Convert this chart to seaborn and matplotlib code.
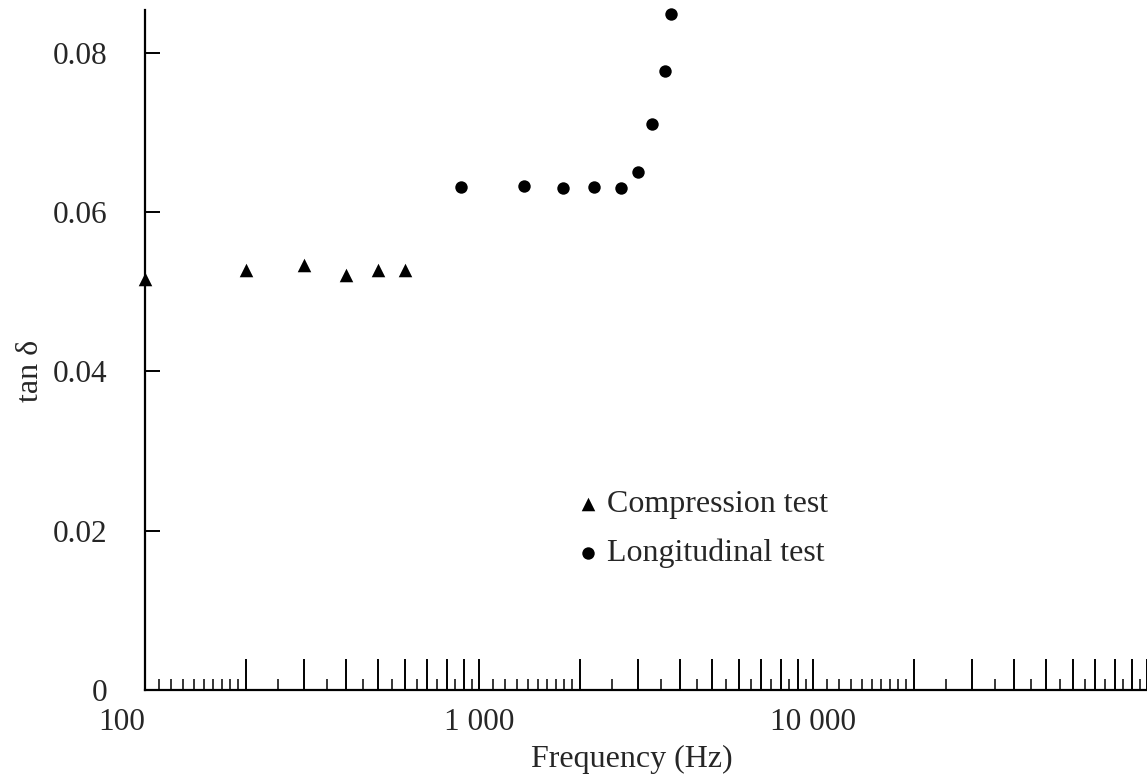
"""tan delta versus frequency, compression and longitudinal tests."""

import matplotlib

matplotlib.use("Agg")

import matplotlib.pyplot as plt
import pandas as pd
import seaborn as sns
from matplotlib.ticker import NullFormatter

compression_freq = [100, 200, 300, 400, 500, 600]
compression_tan = [0.0516, 0.0527, 0.0534, 0.0521, 0.0527, 0.0527]

longitudinal_freq = [885, 1360, 1790, 2210, 2660, 3000, 3300, 3600, 3750]
longitudinal_tan = [0.0632, 0.0633, 0.0630, 0.0632, 0.0630, 0.0650, 0.0711, 0.0778, 0.0849]

y_ticks = [0, 0.02, 0.04, 0.06, 0.08]
y_tick_labels = ["0", "0.02", "0.04", "0.06", "0.08"]
x_label_ticks = {100: "100", 1000: "1 000", 10000: "10 000"}

decades = [100, 1000, 10000]
tall_ticks = [k * d for d in decades for k in range(1, 10)] + [100000]
short_ticks = [d * (1 + k / 10) for d in decades for k in range(1, 10)] + [
    d * (k + 0.5) for d in decades for k in range(2, 10)
]

compression = pd.DataFrame({"freq": compression_freq, "tan": compression_tan})
longitudinal = pd.DataFrame({"freq": longitudinal_freq, "tan": longitudinal_tan})

sns.set_theme(style="white")
plt.rcParams["font.family"] = ["Liberation Serif", "DejaVu Serif"]

W, H = 1147, 774
fig = plt.figure(figsize=(W / 100, H / 100), dpi=100)
ax = fig.add_axes([145 / W, 1 - 690 / H, 1002 / W, 680 / H])

sns.scatterplot(data=compression, x="freq", y="tan", marker="^", s=95, color="black",
                edgecolor="black", linewidth=0, label="Compression test", ax=ax, clip_on=False)
sns.scatterplot(data=longitudinal, x="freq", y="tan", marker="o", s=80, color="black",
                edgecolor="black", linewidth=0, label="Longitudinal test", ax=ax, clip_on=False)

ax.set_xscale("log")
ax.set_xlim(100, 100000)
ax.set_ylim(0, 0.0854)

for side in ["top", "right"]:
    ax.spines[side].set_visible(False)
for side in ["left", "bottom"]:
    ax.spines[side].set_linewidth(1.6)
    ax.spines[side].set_color("black")

ax.set_xticks(tall_ticks, labels=[x_label_ticks.get(t, "") for t in tall_ticks])
ax.set_xticks(short_ticks, minor=True)
ax.xaxis.set_minor_formatter(NullFormatter())
ax.set_yticks(y_ticks, labels=y_tick_labels)
ax.tick_params(axis="x", which="major", direction="in", length=22, width=1.4,
               pad=13, labelsize=22.5, color="black", bottom=True)
ax.tick_params(axis="x", which="minor", direction="in", length=8, width=1.1,
               color="black", bottom=True)
ax.tick_params(axis="y", which="major", direction="in", length=11, width=1.4,
               pad=27, labelsize=22.5, color="black", left=True)
ax.tick_params(axis="y", which="minor", left=False)
ax.get_xticklabels()[0].set_horizontalalignment("right")

ax.set_xlabel("Frequency (Hz)", fontsize=23)
ax.set_ylabel("tan δ", fontsize=23)
ax.xaxis.set_label_coords(0.486, -0.081)
ax.yaxis.set_label_coords(-0.10, 0.47)

ax.legend(loc="upper left", bbox_to_anchor=(578 / W, 1 - 490 / H), bbox_transform=fig.transFigure,
          frameon=False, fontsize=23, handlelength=0.6, handletextpad=0.3,
          labelspacing=0.6, borderpad=0, borderaxespad=0, scatterpoints=1)

fig.savefig("out.png", dpi=100)
